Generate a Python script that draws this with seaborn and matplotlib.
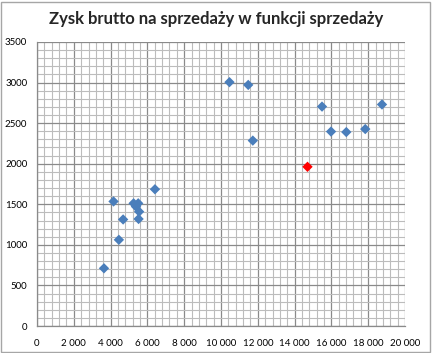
import matplotlib
matplotlib.use("Agg")
import matplotlib.pyplot as plt
import seaborn as sns
import pandas as pd
from matplotlib.ticker import MultipleLocator, FuncFormatter
from matplotlib.patches import Rectangle

title = "Zysk brutto na sprzedaży w funkcji sprzedaży"
sales = [3640, 4160, 4450, 4680, 5250, 5500, 5380, 5550, 5520, 6410,
         10460, 11480, 11730, 15490, 15980, 16810, 17840, 18750, 14700]
profit = [711, 1535, 1062, 1313, 1512, 1512, 1471, 1409, 1319, 1685,
          3005, 2971, 2285, 2704, 2396, 2390, 2427, 2730, 1962]
group = ["normal"] * 18 + ["highlight"]
palette = {"normal": "#4a7ebb", "highlight": "#ff0000"}

sns.set_style("white")
plt.rcParams["font.family"] = ["Lato", "DejaVu Sans"]

df = pd.DataFrame({"sprzedaz": sales, "zysk": profit, "grupa": group})

fig = plt.figure(figsize=(4.32, 3.53), dpi=100)
ax = fig.add_axes([37 / 432, 1 - 326 / 353, 368 / 432, 284 / 353])

ax.set_xlim(0, 20000)
ax.set_ylim(0, 3500)
ax.xaxis.set_major_locator(MultipleLocator(2000))
ax.xaxis.set_minor_locator(MultipleLocator(400))
ax.yaxis.set_major_locator(MultipleLocator(500))
ax.yaxis.set_minor_locator(MultipleLocator(100))
ax.grid(which="minor", color="#bcbcbc", linewidth=0.8)
ax.grid(which="major", color="#8a8a8a", linewidth=0.9)
ax.set_axisbelow(True)

sns.scatterplot(data=df, x="sprzedaz", y="zysk", hue="grupa", palette=palette,
                marker="D", s=28, linewidth=0, legend=False, ax=ax, zorder=3)

ax.set_xlabel("")
ax.set_ylabel("")
ax.xaxis.set_major_formatter(FuncFormatter(lambda v, p: f"{int(v):,}".replace(",", " ")))
ax.yaxis.set_major_formatter(FuncFormatter(lambda v, p: f"{int(v)}"))
ax.tick_params(axis="both", which="major", labelsize=7, length=4, width=0.9,
               color="#8a8a8a", direction="out", pad=3, labelcolor="#000000")
ax.tick_params(axis="x", pad=5)
ax.tick_params(which="minor", length=0)
for side in ["top", "right"]:
    ax.spines[side].set_visible(False)
for side in ["left", "bottom"]:
    ax.spines[side].set_color("#8a8a8a")
    ax.spines[side].set_linewidth(0.9)

fig.text(0.5, 1 - 19 / 353, title, ha="center", va="center",
         fontsize=12, fontweight="bold")

fig.patches.append(Rectangle((1 / 432, 1 / 353), 429 / 432, 350 / 353,
                             transform=fig.transFigure, fill=False,
                             edgecolor="#a6a6a6", linewidth=1))

fig.savefig("out.png", dpi=100)
